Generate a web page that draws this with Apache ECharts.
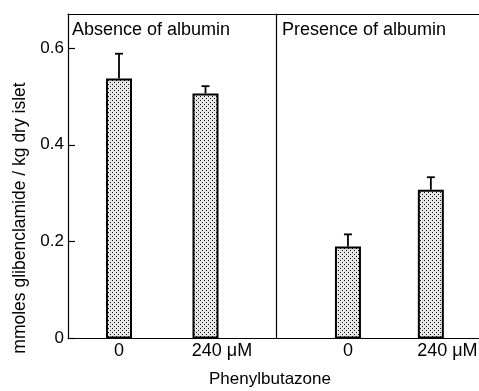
<!DOCTYPE html>
<html>
<head>
<meta charset="utf-8">
<script src="https://cdn.jsdelivr.net/npm/echarts@6/dist/echarts.min.js"></script>
<style>
html,body{margin:0;padding:0;background:#fff;}
#chart{width:479px;height:391px;}
</style>
</head>
<body>
<div id="chart"></div>
<script>
// ---- data ----
var categories = ['0', '240 μM'];
var absenceValues = [0.537, 0.506];
var absenceErrors = [0.051, 0.015];
var presenceValues = [0.190, 0.307];
var presenceErrors = [0.025, 0.026];
var panelTitles = ['Absence of albumin', 'Presence of albumin'];
var yTicks = [0, 0.2, 0.4, 0.6];
var yTitle = 'mmoles glibenclamide / kg dry islet';
var xTitle = 'Phenylbutazone';

var FONT = '"Liberation Sans", Arial, sans-serif';
var YMAX = 0.67;

// stipple pattern
var tile = document.createElement('canvas');
tile.width = 4; tile.height = 4;
var tctx = tile.getContext('2d');
tctx.fillStyle = '#e4e4e4'; tctx.fillRect(0, 0, 4, 4);
tctx.fillStyle = '#ffffff';
[[1,0],[3,2]].forEach(function(p){ tctx.fillRect(p[0], p[1], 1, 1); });
tctx.fillStyle = '#111111';
[[0,0],[2,2]].forEach(function(p){ tctx.fillRect(p[0], p[1], 1, 1); });
var stipple = { image: tile, repeat: 'repeat' };

var TOP = 14, BOTTOM = 52.5;

function errSeries(xi, yi, vals, errs) {
  var data = vals.map(function(v, i){ return [i, v, v + errs[i]]; });
  return {
    type: 'custom', xAxisIndex: xi, yAxisIndex: yi, z: 1, silent: true,
    data: data,
    renderItem: function(params, api) {
      var base = api.coord([api.value(0), api.value(1)]);
      var top = api.coord([api.value(0), api.value(2)]);
      var st = { stroke: '#000', lineWidth: 1.8 };
      return { type: 'group', children: [
        { type: 'line', shape: { x1: base[0], y1: base[1], x2: top[0], y2: top[1] }, style: st },
        { type: 'line', shape: { x1: top[0] - 4, y1: top[1], x2: top[0] + 4, y2: top[1] }, style: st }
      ]};
    }
  };
}

function labelFmt(v) {
  return v === '0' ? '0' : '{p| }' + v;
}

var xLabel = {
  show: true, interval: 0, color: '#000', fontSize: 18, fontFamily: FONT, margin: 4,
  formatter: labelFmt, rich: { p: { width: 33, fontSize: 18 } }
};

var frameLine = { show: true, onZero: false, lineStyle: { color: '#000', width: 1.2 } };

var option = {
  animation: false,
  textStyle: { fontFamily: FONT },
  grid: [
    { left: 68, width: 208, top: TOP, bottom: BOTTOM },      // left frame
    { left: 276, right: 0, top: TOP, bottom: BOTTOM },       // right frame
    { left: 75.75, width: 173, top: TOP, bottom: BOTTOM },   // left bars
    { left: 306.5, width: 172, top: TOP, bottom: BOTTOM }    // right bars
  ],
  xAxis: [
    { gridIndex: 0, type: 'value', min: 0, max: 1, position: 'bottom', axisLine: frameLine, axisTick: { show: false }, axisLabel: { show: false }, splitLine: { show: false } },
    { gridIndex: 0, type: 'value', min: 0, max: 1, position: 'top', axisLine: frameLine, axisTick: { show: false }, axisLabel: { show: false }, splitLine: { show: false } },
    { gridIndex: 1, type: 'value', min: 0, max: 1, position: 'bottom', axisLine: frameLine, axisTick: { show: false }, axisLabel: { show: false }, splitLine: { show: false } },
    { gridIndex: 1, type: 'value', min: 0, max: 1, position: 'top', axisLine: frameLine, axisTick: { show: false }, axisLabel: { show: false }, splitLine: { show: false } },
    { gridIndex: 2, type: 'category', data: categories, axisLine: { show: false }, axisTick: { show: false }, axisLabel: xLabel },
    { gridIndex: 3, type: 'category', data: categories, axisLine: { show: false }, axisTick: { show: false }, axisLabel: xLabel }
  ],
  yAxis: [
    { gridIndex: 0, type: 'value', min: 0, max: YMAX,
      axisLine: { show: true, lineStyle: { color: '#000', width: 1.2 } },
      axisTick: { show: true, inside: true, length: 7, customValues: yTicks, lineStyle: { color: '#000', width: 1.2 } },
      axisLabel: { show: true, color: '#000', fontSize: 17, fontFamily: FONT, margin: 4,
        customValues: yTicks, formatter: function(v){ return v === 0 ? '0' : v.toFixed(1); } },
      splitLine: { show: false } },
    { gridIndex: 1, type: 'value', min: 0, max: YMAX,
      axisLine: { show: true, lineStyle: { color: '#000', width: 1.2 } },
      axisTick: { show: false }, axisLabel: { show: false }, splitLine: { show: false } },
    { gridIndex: 2, type: 'value', min: 0, max: YMAX, show: false },
    { gridIndex: 3, type: 'value', min: 0, max: YMAX, show: false }
  ],
  title: [
    { text: panelTitles[0], left: 72, top: 21, padding: 0, textStyle: { fontSize: 18, fontWeight: 'normal', color: '#000', fontFamily: FONT } },
    { text: panelTitles[1], left: 282, top: 21, padding: 0, textStyle: { fontSize: 18, fontWeight: 'normal', color: '#000', fontFamily: FONT } }
  ],
  graphic: [
    { type: 'text', x: 20, y: 218, rotation: Math.PI / 2, style: { text: yTitle, fontSize: 17.5, fontFamily: FONT, fill: '#000', align: 'center', verticalAlign: 'middle' } },
    { type: 'text', x: 270, y: 379, style: { text: xTitle, fontSize: 17, fontFamily: FONT, fill: '#000', align: 'center', verticalAlign: 'middle' } }
  ],
  series: [
    { type: 'bar', xAxisIndex: 4, yAxisIndex: 2, data: absenceValues, barWidth: 26, z: 2,
      itemStyle: { color: stipple, borderColor: '#000', borderWidth: 2 } },
    errSeries(4, 2, absenceValues, absenceErrors),
    { type: 'bar', xAxisIndex: 5, yAxisIndex: 3, data: presenceValues, barWidth: 26, z: 2,
      itemStyle: { color: stipple, borderColor: '#000', borderWidth: 2 } },
    errSeries(5, 3, presenceValues, presenceErrors)
  ]
};

var chart = echarts.init(document.getElementById('chart'), null, { renderer: 'canvas' });
chart.setOption(option);
</script>
</body>
</html>
